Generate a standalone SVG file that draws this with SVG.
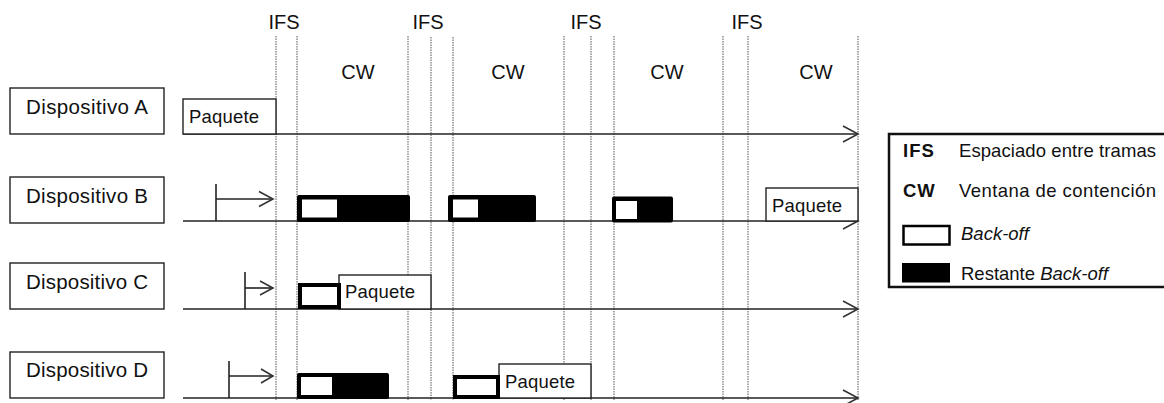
<svg xmlns="http://www.w3.org/2000/svg" width="1164" height="403" viewBox="0 0 1164 403">
<style>
text{font-family:"Liberation Sans",Arial,sans-serif;fill:#111}
.lbl{font-size:20px}
.dev{font-size:20.5px}
.pk{font-size:18.5px}
.leg{font-size:18.5px}
.dash{stroke:#555;stroke-width:1;stroke-dasharray:1.5 1;fill:none}
.tl{stroke:#222;stroke-width:1.6;fill:none}
.ah{stroke:#333;stroke-width:1.6;fill:none}
.box{fill:#fff;stroke:#222;stroke-width:1.4}
.bo{fill:#fff;stroke:#000;stroke-width:4}
</style>
<rect width="1164" height="403" fill="#fff"/>
<g id="grid">
<line class="dash" x1="276" y1="36" x2="276" y2="400"/>
<line class="dash" x1="297" y1="36" x2="297" y2="400"/>
<line class="dash" x1="408" y1="36" x2="408" y2="400"/>
<line class="dash" x1="431" y1="37" x2="431" y2="400"/>
<line class="dash" x1="453" y1="37" x2="453" y2="400"/>
<line class="dash" x1="564" y1="36" x2="564" y2="400"/>
<line class="dash" x1="591" y1="36" x2="591" y2="400"/>
<line class="dash" x1="614" y1="36" x2="614" y2="400"/>
<line class="dash" x1="723" y1="36" x2="723" y2="400"/>
<line class="dash" x1="748" y1="36" x2="748" y2="400"/>
<line class="dash" x1="858" y1="36" x2="858" y2="400"/>
</g>
<g id="labels">
<text class="lbl" x="284" y="29" text-anchor="middle">IFS</text>
<text class="lbl" x="428" y="29" text-anchor="middle">IFS</text>
<text class="lbl" x="586" y="29" text-anchor="middle">IFS</text>
<text class="lbl" x="747" y="29" text-anchor="middle">IFS</text>
<text class="lbl" x="358" y="79" text-anchor="middle">CW</text>
<text class="lbl" x="508" y="79" text-anchor="middle">CW</text>
<text class="lbl" x="667" y="79" text-anchor="middle">CW</text>
<text class="lbl" x="816" y="79" text-anchor="middle">CW</text>
</g>
<g id="connectors">
<line class="tl" x1="183" y1="134" x2="858" y2="134"/>
<polyline class="ah" points="843,126 858,134 843,142"/>
<line class="tl" x1="183" y1="221" x2="858" y2="221"/>
<polyline class="ah" points="843,213 858,221 843,229"/>
<line class="tl" x1="183" y1="309" x2="858" y2="309"/>
<polyline class="ah" points="843,301 858,309 843,317"/>
<line class="tl" x1="183" y1="398" x2="858" y2="398"/>
<polyline class="ah" points="843,390 858,398 843,406"/>
<line class="tl" x1="216" y1="184" x2="216" y2="221"/>
<line class="tl" x1="216" y1="199" x2="273" y2="199"/>
<polyline class="ah" points="259,191.5 273,199 259,206.5"/>
<line class="tl" x1="245" y1="272" x2="245" y2="309"/>
<line class="tl" x1="245" y1="288" x2="273" y2="288"/>
<polyline class="ah" points="260,281 273,288 260,295"/>
<line class="tl" x1="229" y1="361" x2="229" y2="398"/>
<line class="tl" x1="229" y1="376" x2="273" y2="376"/>
<polyline class="ah" points="261,369 273,376 261,383"/>
</g>
<g id="devA">
<rect class="box" x="10" y="88" width="154" height="46"/>
<text class="dev" x="26" y="114" textLength="122">Dispositivo A</text>
<rect class="box" x="183" y="99" width="93" height="35"/>
<text class="pk" x="189" y="123" textLength="70">Paquete</text>
</g>
<g id="devB">
<rect class="box" x="10" y="177" width="154" height="46"/>
<text class="dev" x="26" y="203" textLength="122">Dispositivo B</text>
<rect x="297" y="195" width="113" height="27" rx="2" fill="#000"/>
<rect x="302" y="199.5" width="35" height="18" fill="#fff"/>
<rect x="448" y="195" width="88" height="27" rx="2" fill="#000"/>
<rect x="453" y="199.5" width="25" height="18" fill="#fff"/>
<rect x="612" y="196.5" width="61" height="26" rx="2" fill="#000"/>
<rect x="616" y="201" width="21" height="18" fill="#fff"/>
<rect class="box" x="766" y="188" width="92" height="33"/>
<text class="pk" x="772" y="212" textLength="70">Paquete</text>
</g>
<g id="devC">
<rect class="box" x="10" y="263" width="154" height="46"/>
<text class="dev" x="26" y="289" textLength="122">Dispositivo C</text>
<rect class="box" x="339" y="275" width="92" height="34"/>
<text class="pk" x="345" y="298" textLength="70">Paquete</text>
<rect class="bo" x="300" y="285" width="39" height="22"/>
</g>
<g id="devD">
<rect class="box" x="10" y="352" width="154" height="46"/>
<text class="dev" x="26" y="377" textLength="122">Dispositivo D</text>
<rect x="297" y="373" width="92" height="26" rx="2" fill="#000"/>
<rect x="301" y="377" width="31" height="18" fill="#fff"/>
<rect class="box" x="499" y="364" width="92" height="34"/>
<text class="pk" x="505" y="388" textLength="70">Paquete</text>
<rect class="bo" x="455" y="377" width="43" height="20"/>
</g>
<g id="legend">
<rect x="889" y="134" width="290" height="153" fill="#fff" stroke="#111" stroke-width="2.5"/>
<text class="leg" x="903" y="157" font-weight="bold" letter-spacing="1">IFS</text>
<text class="leg" x="959" y="157" textLength="197">Espaciado entre tramas</text>
<text class="leg" x="903" y="197" font-weight="bold" letter-spacing="1">CW</text>
<text class="leg" x="959" y="197" textLength="197">Ventana de contención</text>
<rect x="903.5" y="226" width="46" height="18.5" fill="#fff" stroke="#000" stroke-width="2.5"/>
<text class="leg" x="961" y="240" font-style="italic">Back-off</text>
<rect x="902" y="263" width="48" height="19.5" fill="#000"/>
<text class="leg" x="961" y="280">Restante <tspan font-style="italic">Back-off</tspan></text>
</g>
</svg>
